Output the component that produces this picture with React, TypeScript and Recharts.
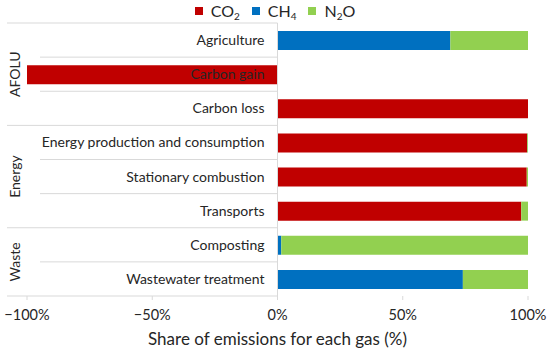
import React from 'react';
import {
  BarChart,
  Bar,
  XAxis,
  YAxis,
  ReferenceLine
} from 'recharts';

// categories, top to bottom
const categories = [
  'Agriculture',
  'Carbon gain',
  'Carbon loss',
  'Energy production and consumption',
  'Stationary combustion',
  'Transports',
  'Composting',
  'Wastewater treatment'
];

// share of each gas (%), negative = sink
const co2 = [0, -100, 100, 99.6, 99.5, 97.3, 0, 0];
const ch4 = [69, 0, 0, 0.1, 0, 0, 1.5, 74];
const n2o = [31, 0, 0, 0.3, 0.5, 2.7, 98.5, 26];

const groups = [
  { name: 'AFOLU', start: 0, count: 3 },
  { name: 'Energy', start: 3, count: 3 },
  { name: 'Waste', start: 6, count: 2 }
];

const xTicks = [-100, -50, 0, 50, 100];

const COLORS = { co2: '#C00000', ch4: '#0070C0', n2o: '#92D050' };
const FONT = 'Lato, "Open Sans", sans-serif';
const TEXT = '#262626';
const GRID = '#D9D9D9';

const W = 550;
const H = 351;
const Y_AXIS_W = 1;
const M = { top: 23, right: 22, bottom: 25, left: 27 - Y_AXIS_W };
const X_AXIS_H = 30;
const PLOT_W = W - M.left - Y_AXIS_W - M.right;
const PLOT_H = H - M.top - M.bottom - X_AXIS_H;
const ROW = PLOT_H / categories.length;
const ZERO_X = M.left + Y_AXIS_W + PLOT_W / 2;

const data = categories.map((name, i) => ({
  name,
  CO2: co2[i],
  CH4: ch4[i],
  N2O: n2o[i]
}));

const fmtPct = (v: number) => (v < 0 ? '\u2212' + Math.abs(v) : String(v)) + '%';

function CategoryTick(props: any) {
  const { y, payload } = props;
  const i = categories.indexOf(payload.value);
  const bottom = y + ROW / 2;
  const isGroupEnd = groups.some(g => g.start + g.count - 1 === i);
  const group = groups.find(g => g.start === i);
  const gy = y + ((group ? group.count - 1 : 0) * ROW) / 2;
  return (
    <g>
      {i === 0 && (
        <line x1={7} x2={ZERO_X} y1={y - ROW / 2} y2={y - ROW / 2} stroke={GRID} strokeWidth={1} />
      )}
      <line
        x1={isGroupEnd ? 7 : 40}
        x2={ZERO_X}
        y1={bottom}
        y2={bottom}
        stroke={GRID}
        strokeWidth={1}
      />
      <text
        x={ZERO_X - 13}
        y={y}
        dy={5}
        textAnchor="end"
        fontSize={14}
        fontFamily={FONT}
        fill={TEXT}
      >
        {payload.value}
      </text>
      {group && (
        <text
          x={20}
          y={gy}
          transform={`rotate(-90 20 ${gy})`}
          textAnchor="middle"
          fontSize={14}
          fontFamily={FONT}
          fill={TEXT}
        >
          {group.name}
        </text>
      )}
    </g>
  );
}

function GasLegend() {
  const items = [
    { key: 'CO', sub: '2', tail: '', color: COLORS.co2 },
    { key: 'CH', sub: '4', tail: '', color: COLORS.ch4 },
    { key: 'N', sub: '2', tail: 'O', color: COLORS.n2o }
  ];
  return (
    <div style={{ display: 'flex', justifyContent: 'center', fontFamily: FONT, fontSize: 16, color: TEXT, height: 20, lineHeight: '20px' }}>
      {items.map(it => (
        <span key={it.key + it.sub} style={{ display: 'inline-flex', alignItems: 'center', margin: '0 6px' }}>
          <span style={{ width: 8, height: 8, background: it.color, display: 'inline-block', marginRight: 8 }} />
          <span>
            {it.key}
            <sub style={{ fontSize: 10, verticalAlign: -3, lineHeight: 0 }}>{it.sub}</sub>
            {it.tail}
          </span>
        </span>
      ))}
    </div>
  );
}

export default function App() {
  return (
    <div style={{ position: 'absolute', left: 0, top: 0, width: W, height: H, background: '#fff' }}>
      <div style={{ position: 'absolute', left: 0, top: 1, width: W }}>
        <GasLegend />
      </div>
      <BarChart
        width={W}
        height={H}
        data={data}
        layout="vertical"
        margin={M}
        barSize={19}
      >
        <XAxis
          type="number"
          domain={[-100, 100]}
          ticks={xTicks}
          tickFormatter={fmtPct}
          axisLine={false}
          tickLine={{ stroke: GRID }}
          tickSize={4}
          tickMargin={10}
          height={X_AXIS_H}
          tick={{ fontSize: 14.5, fontFamily: FONT, fill: TEXT }}
          label={{
            value: 'Share of emissions for each gas (%)',
            position: 'insideBottom',
            offset: -19,
            fontSize: 17,
            fontFamily: FONT,
            fill: TEXT
          }}
        />
        <YAxis
          type="category"
          dataKey="name"
          width={Y_AXIS_W}
          axisLine={false}
          tickLine={false}
          interval={0}
          tick={CategoryTick}
        />
        <Bar dataKey="CO2" stackId="a" fill={COLORS.co2} isAnimationActive={false} />
        <Bar dataKey="CH4" stackId="a" fill={COLORS.ch4} isAnimationActive={false} />
        <Bar dataKey="N2O" stackId="a" fill={COLORS.n2o} isAnimationActive={false} />
        <ReferenceLine x={0} stroke={GRID} strokeWidth={1} />
      </BarChart>
    </div>
  );
}
